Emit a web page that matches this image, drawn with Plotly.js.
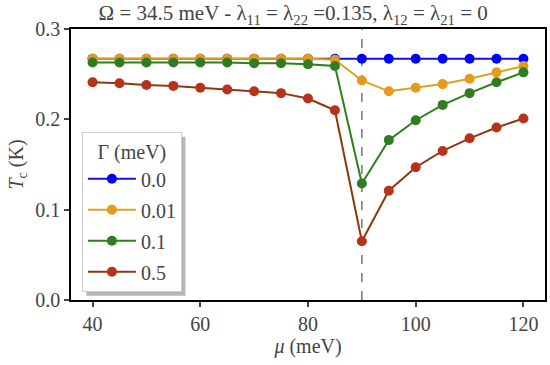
<!DOCTYPE html>
<html><head><meta charset="utf-8">
<script src="https://cdn.plot.ly/plotly-3.0.1.min.js"></script>
<style>html,body{margin:0;padding:0;background:#fff}#c{width:550px;height:365px}</style>
</head><body><div id="c"></div>
<script>
const mu = [40,45,50,55,60,65,70,75,80,85,90,95,100,105,110,115,120];
const gammaLabels = ['0.0','0.01','0.1','0.5'];
const tc_g0 = [0.267,0.267,0.267,0.267,0.267,0.267,0.267,0.267,0.267,0.267,0.267,0.267,0.267,0.267,0.267,0.267,0.267];
const tc_g001 = [0.267,0.267,0.267,0.267,0.267,0.267,0.267,0.267,0.267,0.266,0.243,0.231,0.235,0.239,0.245,0.252,0.259];
const tc_g01 = [0.263,0.263,0.263,0.263,0.263,0.263,0.262,0.262,0.261,0.259,0.129,0.177,0.199,0.216,0.229,0.241,0.252];
const tc_g05 = [0.241,0.240,0.238,0.237,0.235,0.233,0.231,0.229,0.223,0.210,0.065,0.121,0.147,0.165,0.179,0.191,0.201];
const seriesY = [tc_g0, tc_g001, tc_g01, tc_g05];
const lineColors = ['#1010f0','#d9a520','#2f7f1f','#8b3a10'];
const markerColors = ['#0000ff','#e69a1a','#2e7d22','#b8321a'];
const vline = 90;

const FAM = 'Liberation Serif';
const OMEGA = '\u03A9', LAMBDA = '\u03BB', GAMMA = '\u0393', MU = '\u03BC';
const titleText = OMEGA + ' = 34.5 meV - ' + LAMBDA + '<sub>11</sub> = ' + LAMBDA + '<sub>22</sub> =0.135, ' +
  LAMBDA + '<sub>12</sub> = ' + LAMBDA + '<sub>21</sub> = 0';

const traces = seriesY.map((y,i)=>({
  x: mu, y: y, type:'scatter', mode:'lines+markers', name: gammaLabels[i],
  legendgroup: 'g'+i,
  line:{color: lineColors[i], width:2},
  marker:{color: markerColors[i], size:10}
}));

const vlineShape = {type:'line', xref:'x', yref:'y', x0:vline, x1:vline, y0:0, y1:0.3, line:{color:'#777', width:1.5, dash:'dash'}, layer:'below'};

const layout = {
  width:550, height:365,
  margin:{l:71, r:5, t:29, b:65},
  paper_bgcolor:'#fff', plot_bgcolor:'#fff',
  title:{text:titleText, font:{family:FAM, size:21}, x:0.533, xanchor:'center', y:0.985, yanchor:'top'},
  xaxis:{range:[36,124], tickvals:[40,60,80,100,120], ticks:'outside', ticklen:5, tickwidth:1.5,
    tickfont:{family:FAM, size:20},
    showline:true, linecolor:'#000', linewidth:1.5, mirror:true, showgrid:false, zeroline:false,
    title:{text:'<i>' + MU + '</i> (meV)', font:{family:FAM, size:20}, standoff:4}},
  yaxis:{range:[0,0.3], tickvals:[0,0.1,0.2,0.3], ticktext:['0.0','0.1','0.2','0.3'], ticks:'outside', ticklen:5, tickwidth:1.5,
    tickfont:{family:FAM, size:20},
    showline:true, linecolor:'#000', linewidth:1.5, mirror:true, showgrid:false, zeroline:false,
    title:{text:'<i>T</i><sub>c</sub> (K)', font:{family:FAM, size:20}, standoff:6}},
  showlegend:true,
  legend:{x:0.023, y:0.619, xanchor:'left', yanchor:'top', bgcolor:'#fff', bordercolor:'#cccccc', borderwidth:1,
    traceorder:'grouped', tracegroupgap:2, itemwidth:48,
    title:{text:GAMMA + ' (meV)', side:'top center', font:{family:FAM, size:20}},
    font:{family:FAM, size:20}},
  shapes:[vlineShape]
};
Plotly.newPlot('c', traces, layout, {displayModeBar:false}).then(gd=>{
  const bg = gd.querySelector('.legend .bg');
  if(!bg) return;
  const r = bg.getBoundingClientRect();
  const c = gd.getBoundingClientRect();
  const fl = gd._fullLayout._size;
  const px = v => (v - c.left - fl.l)/fl.w;
  const py = v => 1 - (v - c.top - fl.t)/fl.h;
  const off = 4;
  const shadow = {type:'rect', xref:'paper', yref:'paper',
    x0:px(r.left+off), x1:px(r.right+off), y0:py(r.bottom+off), y1:py(r.top+off),
    fillcolor:'#b5b5b5', line:{width:0}, layer:'below'};
  return Plotly.relayout(gd, {shapes:[vlineShape, shadow]});
});
</script></body></html>
